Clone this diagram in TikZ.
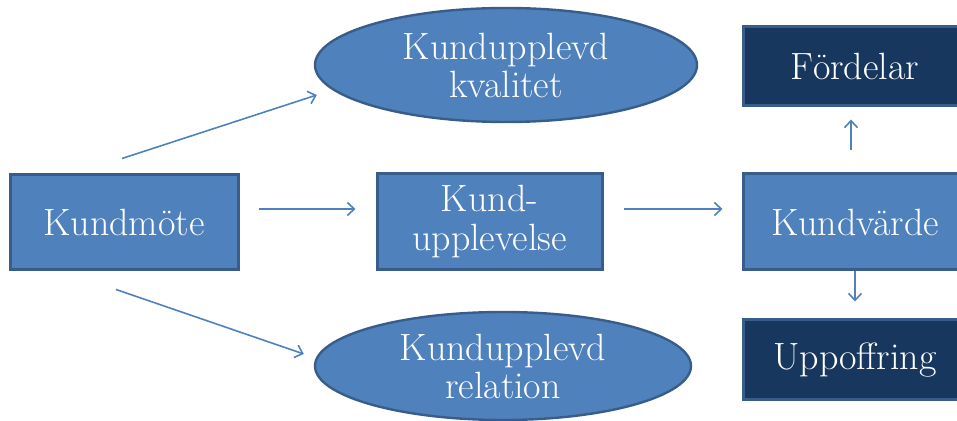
\documentclass[tikz,border=0pt]{standalone}
\usepackage{fontspec}
\usepackage{tikz}
\usetikzlibrary{arrows.meta,positioning,shapes.geometric}
\definecolor{BoxBlue}{HTML}{4F81BD}
\definecolor{EdgeBlue}{HTML}{385D8A}
\definecolor{DeepNavy}{HTML}{17375E}
\begin{document}
\begin{tikzpicture}[x=0.5pt,y=-0.5pt,>={Straight Barb[length=3.5pt,width=6.5pt]},
  blockbox/.style={rectangle,fill=BoxBlue,draw=EdgeBlue,line width=1.5pt,text=white,align=center,inner sep=0pt,font=\fontsize{19}{19.5}\selectfont},
  darkbox/.style={blockbox,fill=DeepNavy},
  ovalbox/.style={ellipse,fill=BoxBlue,draw=EdgeBlue,line width=1.2pt,text=white,align=center,inner sep=0pt,font=\fontsize{19}{19}\selectfont},
  flow/.style={->,draw=BoxBlue,line width=0.8pt}]
\useasboundingbox (0,0) rectangle (957,421);
\node[blockbox,minimum width=114pt,minimum height=47.5pt] (km) at (124,222.5) {Kundmöte};
\node[blockbox,minimum width=112.5pt,minimum height=48pt] (ku) at (489.5,222) {Kund-\\upplevelse};
\node[blockbox,minimum width=112pt,minimum height=48pt] (kv) at (855,222) {Kundvärde};
\node[darkbox,minimum width=112pt,minimum height=39.5pt] (fd) at (855,66.5) {Fördelar};
\node[darkbox,minimum width=112pt,minimum height=40pt] (up) at (855,360) {Uppoffring};
\node[ovalbox,minimum width=191pt,minimum height=57pt] (kq) at (506,65) {Kundupplevd\\kvalitet};
\node[ovalbox,minimum width=188pt,minimum height=54pt] (kr) at (503,366) {Kundupplevd\\relation};
% pilar
\draw[flow] ([shift={(-2,-15)}]km.north) -- ([shift={(3,30)}]kq.west);
\draw[flow] ([shift={(19,-13.5)}]km.east) -- ([shift={(-20,-13)}]ku.west);
\draw[flow] ([shift={(20,-13)}]ku.east) -- ([shift={(-19,-13)}]kv.west);
\draw[flow] ([shift={(-4,-22)}]kv.north) -- ([shift={(-4,12)}]fd.south);
\draw[flow] (kv.south) -- ([shift={(0,-17)}]up.north);
\draw[flow] ([shift={(-8,18)}]km.south) -- ([shift={(-10,-12)}]kr.west);
\end{tikzpicture}
\end{document}
